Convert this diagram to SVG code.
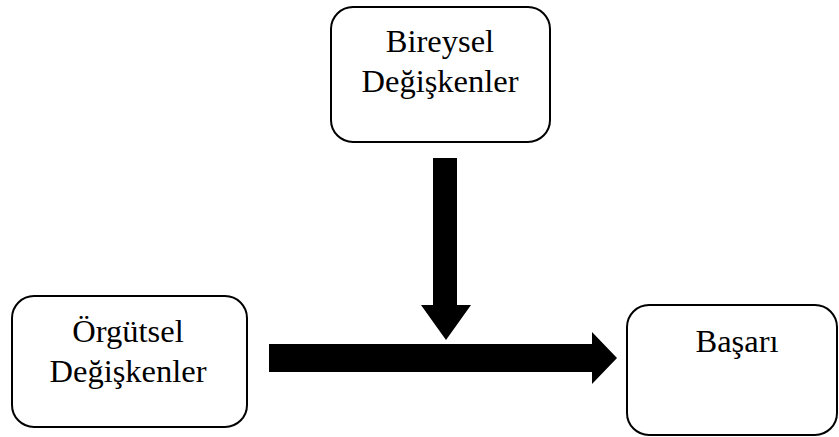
<svg xmlns="http://www.w3.org/2000/svg" width="839" height="437" viewBox="0 0 839 437">
<style>
.box{fill:#fff;stroke:#000;stroke-width:2}
.t{font-family:"Liberation Serif","Times New Roman",serif;font-size:32.5px;fill:#000;text-anchor:middle}
.arr{fill:#000}
</style>
<rect width="839" height="437" fill="#fff"/>
<g id="bireysel">
<rect class="box" x="331" y="7" width="219" height="135" rx="22"/>
<text class="t" x="440" y="52">Bireysel</text>
<text class="t" x="440" y="92">Değişkenler</text>
</g>
<g id="orgutsel">
<rect class="box" x="12" y="296" width="235" height="131" rx="22"/>
<text class="t" x="128" y="342">Örgütsel</text>
<text class="t" x="128" y="382">Değişkenler</text>
</g>
<g id="basari">
<rect class="box" x="627" y="305" width="210" height="130" rx="22"/>
<text class="t" x="737" y="352">Başarı</text>
</g>
<g id="connectors">
<polygon class="arr" points="433,158 457,158 457,305 471,305 446,340 421,305 433,305"/>
<polygon class="arr" points="269,344 592,344 592,332 617,358 592,384 592,372 269,372"/>
</g>
</svg>
